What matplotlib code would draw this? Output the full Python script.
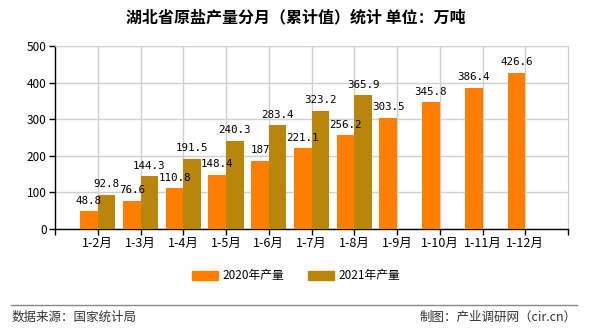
import matplotlib
matplotlib.use("Agg")
import matplotlib.pyplot as plt
import numpy as np
from matplotlib.patches import Patch

plt.rcParams['font.family'] = ['Noto Sans CJK SC', 'DejaVu Sans']

categories = ['1-2月', '1-3月', '1-4月', '1-5月', '1-6月', '1-7月', '1-8月', '1-9月', '1-10月', '1-11月', '1-12月']
values_2020 = [48.8, 76.6, 110.8, 148.4, 187, 221.1, 256.2, 303.5, 345.8, 386.4, 426.6]
values_2021 = [92.8, 144.3, 191.5, 240.3, 283.4, 323.2, 365.9]
labels_2020 = ['48.8', '76.6', '110.8', '148.4', '187', '221.1', '256.2', '303.5', '345.8', '386.4', '426.6']
labels_2021 = ['92.8', '144.3', '191.5', '240.3', '283.4', '323.2', '365.9']
series_names = ['2020年产量', '2021年产量']
c2020 = '#FF8000'
c2021 = '#B8860B'

fig = plt.figure(figsize=(5.9, 3.3), dpi=100)
ax = fig.add_axes([55/590, 1-229/330, (568-55)/590, (229-46)/330])

x1 = np.arange(1, len(values_2020) + 1)
x2 = np.arange(1, len(values_2021) + 1)
w = 0.41
ax.bar(x1 - w/2, values_2020, width=w, color=c2020, zorder=3)
ax.bar(x2 + w/2, values_2021, width=w, color=c2021, zorder=3)

for xi, v, t in zip(x1, values_2020, labels_2020):
    ax.annotate(t, (xi - w/2, v), xytext=(0, 4), textcoords='offset points',
                ha='center', va='bottom', fontsize=7.8, family='DejaVu Sans Mono', zorder=4)
for xi, v, t in zip(x2, values_2021, labels_2021):
    ax.annotate(t, (xi + w/2, v), xytext=(0, 4), textcoords='offset points',
                ha='center', va='bottom', fontsize=7.8, family='DejaVu Sans Mono', zorder=4)

ax.set_xlim(0, 12)
ax.set_ylim(0, 500)
ax.set_yticks(range(0, 501, 100))
ax.set_xticks(list(x1))
ax.set_xticklabels(categories, fontsize=9)
ax.set_xticks([0, 12], minor=True)
ax.tick_params(axis='x', which='both', length=4, width=1, color='black', pad=2)
ax.tick_params(axis='y', length=4, width=1, color='black', labelsize=8.5, pad=2)
ax.grid(True, color='#d0d0d0', linewidth=1, zorder=0)
for s in ['top', 'right']:
    ax.spines[s].set_color('#d0d0d0')
for s in ['left', 'bottom']:
    ax.spines[s].set_color('black')
    ax.spines[s].set_linewidth(1)

fig.text(296/590, 1-17/330, '湖北省原盐产量分月（累计值）统计 单位：万吨', ha='center', va='center',
         fontsize=11.5, fontweight='bold')

handles = [Patch(color=c2020), Patch(color=c2021)]
fig.legend(handles, series_names, loc='center', bbox_to_anchor=(296/590, 1-276/330), ncol=2,
           frameon=False, fontsize=8.5, handlelength=2.2, handleheight=0.9, columnspacing=2.0, handletextpad=0.4)

fig.add_artist(plt.Line2D([11/590, 577/590], [1-305/330, 1-305/330], color='#888888', linewidth=1))
fig.text(12/590, 1-317/330, '数据来源：国家统计局', ha='left', va='center', fontsize=9, color='#333333')
fig.text(577/590, 1-317/330, '制图：产业调研网（cir.cn）', ha='right', va='center', fontsize=9, color='#333333')

fig.savefig('out.png', dpi=100)
